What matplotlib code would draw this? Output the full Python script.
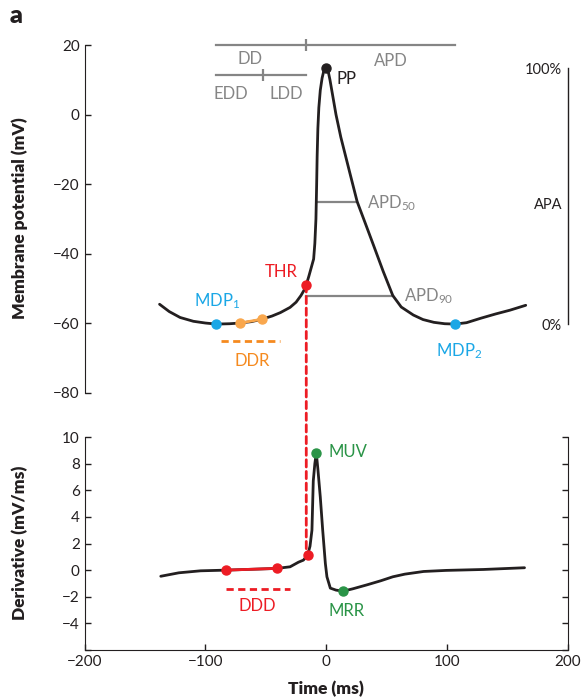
import numpy as np
import matplotlib.pyplot as plt
from matplotlib.patches import ConnectionPatch

plt.rcParams['font.family'] = ['Lato', 'DejaVu Sans']
plt.rcParams['mathtext.fontset'] = 'custom'
plt.rcParams['mathtext.rm'] = 'Lato'
plt.rcParams['mathtext.it'] = 'Lato:italic'
plt.rcParams['mathtext.bf'] = 'Lato:bold'

# membrane potential trace (ms, mV)
t_ap = [-138, -130, -121, -110, -100, -91, -80, -71.4, -62, -53.4, -45, -38, -30,
        -25, -21, -18.5, -16.6, -14.5, -12.5, -10.5, -9.5, -8.6, -8.0, -7.6, -7.0,
        -6.2, -5, -3.5, -2, 0, 1.5, 3, 5, 8, 12, 16, 20, 25.5, 32, 39, 47, 55, 62,
        72, 80, 89, 98, 106.5, 116, 128, 140, 152, 165]
v_ap = [-54.5, -56.6, -58.3, -59.4, -59.9, -60.2, -60.1, -59.9, -59.5, -58.8, -57.9,
        -56.9, -55.4, -53.9, -52.0, -50.5, -48.9, -46.5, -44.0, -41.5, -37.0, -30.0,
        -20.0, -12.0, -4.0, 2.0, 7.0, 10.5, 12.7, 13.5, 12.5, 10.0, 6.0, 0.0, -6.5,
        -12.0, -17.5, -25.0, -31.0, -37.5, -45.0, -52.0, -55.3, -57.6, -58.9, -59.7,
        -60.1, -60.2, -59.8, -58.5, -57.3, -56.2, -54.8]

# first derivative trace (ms, mV/ms)
t_dv = [-137, -122, -104, -83, -60, -41, -30, -23, -19, -15.5, -13.5, -11.9, -10.8,
        -9.5, -8.3, -7, -5, -3, -0.8, 0.5, 3.3, 8, 13.8, 22, 33.8, 45, 55, 65, 80.5,
        99, 130, 164]
dv = [-0.46, -0.2, -0.05, 0.0, 0.07, 0.13, 0.25, 0.6, 0.75, 1.12, 1.8, 3.0, 6.7,
      8.0, 8.8, 7.6, 5.5, 3.0, 0.5, -0.5, -1.35, -1.5, -1.58, -1.4, -1.1, -0.8,
      -0.5, -0.3, -0.1, -0.02, 0.05, 0.18]

# characteristic points
t_pp, v_pp = 0, 13.5
t_mdp = [-91, 106.5]
v_mdp = [-60.2, -60.2]
t_ddr = [-71.4, -53.4]
v_ddr = [-59.9, -58.8]
t_thr, v_thr = -16.6, -48.9
apd50 = (-6.8, 25.5, -25.0)
apd90 = (-16.6, 55.0, -52.2)
t_ddd = [-83, -41, -15.5]
v_ddd = [0.0, 0.13, 1.12]
t_muv, v_muv = -8.3, 8.8
t_mrr, v_mrr = 13.8, -1.58

black = '#231f20'
blue = '#1aa7e6'
orange = '#f58a1f'
orange_lt = '#f9a74d'
red = '#ed1c24'
green = '#2a9447'
gray = '#858585'

fig = plt.figure(figsize=(5.82, 7.0), dpi=100)
ax1 = fig.add_axes([0.1454, 0.4386, 0.8306, 0.4971])
ax2 = fig.add_axes([0.1454, 0.0714, 0.8306, 0.3043])

for ax in (ax1, ax2):
    ax.set_xlim(-200, 200)
    ax.tick_params(direction='in', labelsize=11, length=4, width=1, colors=black)
    ax.spines['top'].set_visible(False)

# --- top panel: action potential
ax1.set_ylim(-80, 20)
ax1.set_yticks([-80, -60, -40, -20, 0, 20])
ax1.spines['right'].set_visible(False)
ax1.spines['bottom'].set_visible(False)
ax1.tick_params(axis='x', bottom=False, labelbottom=False)
ax1.spines['left'].set_color(black)

ax1.plot(t_ap, v_ap, color=black, lw=2, solid_capstyle='round', zorder=3)

# DD / APD bars
ax1.plot([t_mdp[0], t_mdp[1]], [20, 20], color=gray, lw=1.6, clip_on=False)
ax1.plot([t_thr], [20], marker='|', ms=9, mew=1.6, color=gray, clip_on=False)
ax1.plot([t_mdp[0], t_thr], [11.3, 11.3], color=gray, lw=1.6, clip_on=False)
ax1.plot([-52.5], [11.3], marker='|', ms=9, mew=1.6, color=gray, clip_on=False)
ax1.text(-63, 16, 'DD', color=gray, fontsize=12, ha='center', va='center')
ax1.text(53, 15.5, 'APD', color=gray, fontsize=12, ha='center', va='center')
ax1.text(-79, 5.9, 'EDD', color=gray, fontsize=12, ha='center', va='center')
ax1.text(-33, 5.9, 'LDD', color=gray, fontsize=12, ha='center', va='center')

# APD50 / APD90
ax1.plot(apd50[:2], [apd50[2]] * 2, color=gray, lw=1.6, zorder=2)
ax1.plot(apd90[:2], [apd90[2]] * 2, color=gray, lw=1.6, zorder=2)
ax1.text(33.5, -25.5, r'APD$_{\mathrm{50}}$', color=gray, fontsize=12, va='center')
ax1.text(64, -52.2, r'APD$_{\mathrm{90}}$', color=gray, fontsize=12, va='center')

# peak
ax1.plot([t_pp], [v_pp], 'o', ms=6.5, color=black, zorder=5, clip_on=False)
ax1.text(8.6, 10.2, 'PP', color=black, fontsize=12, va='center')

# MDP points
ax1.plot(t_mdp, v_mdp, 'o', ls='none', ms=6.5, color=blue, zorder=5)
ax1.text(-109.5, -53.5, r'MDP$_{\mathrm{1}}$', color=blue, fontsize=12, va='center')
ax1.text(90.5, -68, r'MDP$_{\mathrm{2}}$', color=blue, fontsize=12, va='center')

# DDR
ax1.plot(t_ddr, v_ddr, '-o', ms=6.5, lw=2, color=orange_lt, zorder=5)
ax1.plot([-87.4, -38.2], [-65, -65], color=orange, lw=2, ls=(0, (2.6, 1.6)))
ax1.text(-61, -70.8, 'DDR', color=orange, fontsize=12, ha='center', va='center')

# THR
ax1.plot([t_thr], [v_thr], 'o', ms=6.5, color=red, zorder=6)
ax1.text(-24, -45.3, 'THR', color=red, fontsize=12, ha='right', va='center')

# APA scale bar
ax1.plot([200, 200], [v_mdp[0], v_pp], color=black, lw=1, clip_on=False)
ax1.text(195, 12.8, '100%', fontsize=10.5, ha='right', va='center', color=black)
ax1.text(195, -26, 'APA', fontsize=10.5, ha='right', va='center', color=black)
ax1.text(195, -60.7, '0%', fontsize=10.5, ha='right', va='center', color=black)

# --- bottom panel: derivative
ax2.set_ylim(-6, 10)
ax2.set_yticks([-6, -4, -2, 0, 2, 4, 6, 8, 10])
ax2.set_yticklabels(['', '\u22124', '\u22122', '0', '2', '4', '6', '8', '10'])
ax2.set_xticks([-200, -100, 0, 100, 200])
ax2.tick_params(axis='y', right=True)
for s in ('left', 'right', 'bottom'):
    ax2.spines[s].set_color(black)

ax2.plot(t_dv, dv, color=black, lw=2, solid_capstyle='round', zorder=3)
ax2.plot(t_ddd[:2], v_ddd[:2], '-o', ms=6.5, lw=2, color=red, zorder=5)
ax2.plot([t_ddd[2]], [v_ddd[2]], 'o', ms=6.5, color=red, zorder=5)
ax2.plot([-83, -30], [-1.45, -1.45], color=red, lw=2, ls=(0, (2.6, 1.6)))
ax2.text(-57, -2.7, 'DDD', color=red, fontsize=12, ha='center', va='center')

ax2.plot([t_muv, t_mrr], [v_muv, v_mrr], 'o', ls='none', ms=6.5, color=green, zorder=5)
ax2.text(1.7, 8.9, 'MUV', color=green, fontsize=12, va='center')
ax2.text(17, -3.1, 'MRR', color=green, fontsize=12, ha='center', va='center')

# dashed line joining threshold in both panels
con = ConnectionPatch(xyA=(t_thr, v_thr), coordsA=ax1.transData,
                      xyB=(t_thr, v_ddd[2]), coordsB=ax2.transData,
                      color=red, lw=2, ls=(0, (2.6, 1.6)), zorder=1)
fig.add_artist(con)

fig.text(20 / 582, 1 - 218 / 700, 'Membrane potential (mV)', rotation=90,
         ha='center', va='center', fontsize=12.5, fontweight='heavy', color=black)
fig.text(20 / 582, 1 - 543 / 700, 'Derivative (mV/ms)', rotation=90,
         ha='center', va='center', fontsize=12.5, fontweight='heavy', color=black)
fig.text(326 / 582, 1 - 689 / 700, 'Time (ms)', ha='center', va='center',
         fontsize=12.5, fontweight='heavy', color=black)
fig.text(10 / 582, 1 - 16 / 700, 'a', ha='left', va='center', fontsize=18,
         fontweight='heavy', color=black)

fig.savefig('out.png', dpi=100)
